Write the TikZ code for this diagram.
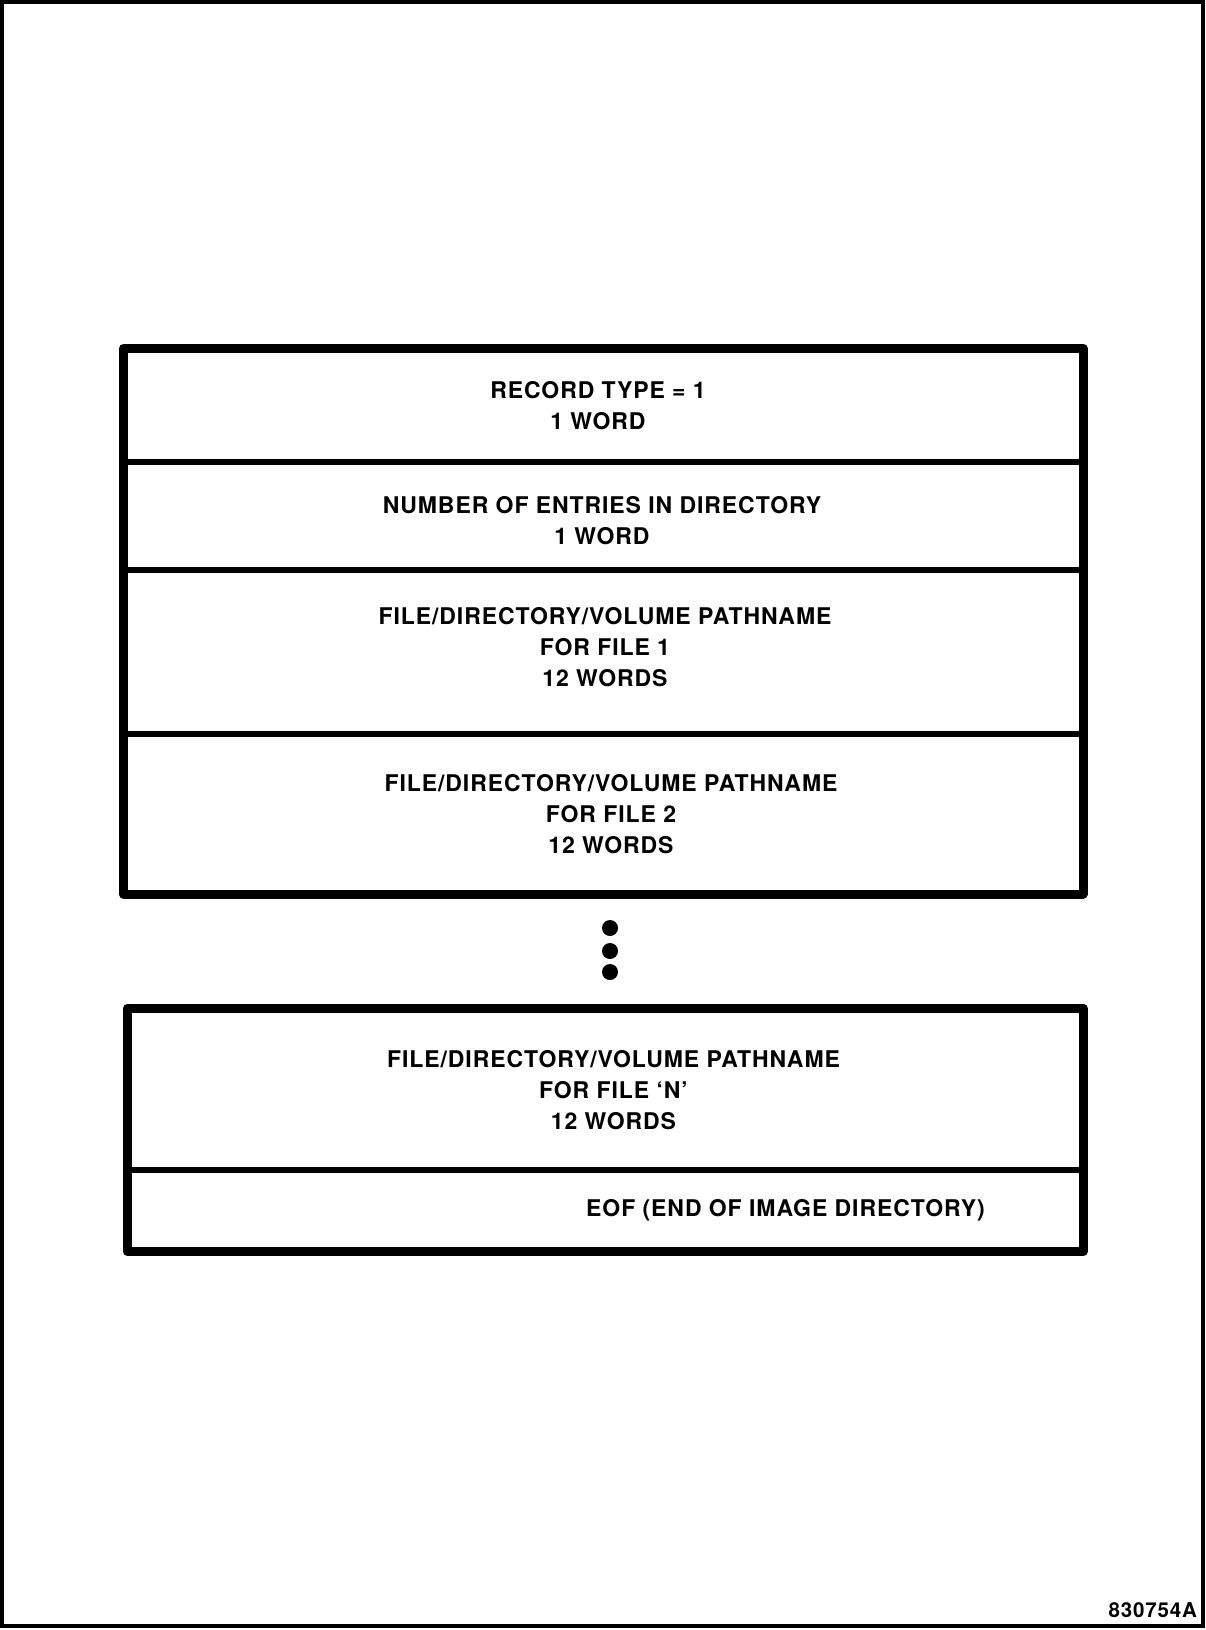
\documentclass[tikz,border=0pt]{standalone}
\usepackage{fontspec}
\setmainfont{TeX Gyre Heros}
\newfontfamily\figfont[LetterSpace=4]{TeX Gyre Heros}
\begin{document}
\begin{tikzpicture}[x=1pt,y=-1pt,
  field/.style={font=\figfont\bfseries\fontsize{23}{31}\selectfont,align=center,inner sep=0pt},
  frame/.style={line width=9pt,line join=round},
  rule/.style={line width=6pt}]
\useasboundingbox (0,0) rectangle (1206,1630);
\draw[line width=3.5pt] (2,2) rectangle (1203,1626);
% upper record
\draw[frame] (123.5,348.5) rectangle (1083,894);
\foreach \y in {462,570,734} \draw[rule] (123.5,\y) -- (1083,\y);
\node[field] (rectype) at (598,406) {RECORD TYPE = 1\\1 WORD};
\node[field] (entries) at (602,521) {NUMBER OF ENTRIES IN DIRECTORY\\1 WORD};
\node[field] (fileone) at (605,647) {FILE/DIRECTORY/VOLUME PATHNAME\\FOR FILE 1\\12 WORDS};
\node[field] (filetwo) at (611,814) {FILE/DIRECTORY/VOLUME PATHNAME\\FOR FILE 2\\12 WORDS};
% continuation dots
\foreach \y in {928,951,972} \fill (610,\y) circle (8pt);
% lower record
\draw[frame] (127,1008) rectangle (1083,1251.5);
\draw[rule] (127,1169.5) -- (1083,1169.5);
\node[field] (filen) at (613.5,1090) {FILE/DIRECTORY/VOLUME PATHNAME\\FOR FILE ‘N’\\12 WORDS};
\node[field] (eof) at (785.5,1210) {EOF (END OF IMAGE DIRECTORY)};
\node[field,font=\figfont\bfseries\fontsize{20.5}{24}\selectfont,anchor=south east] (figno) at (1197,1617.5) {830754A};
\end{tikzpicture}
\end{document}
